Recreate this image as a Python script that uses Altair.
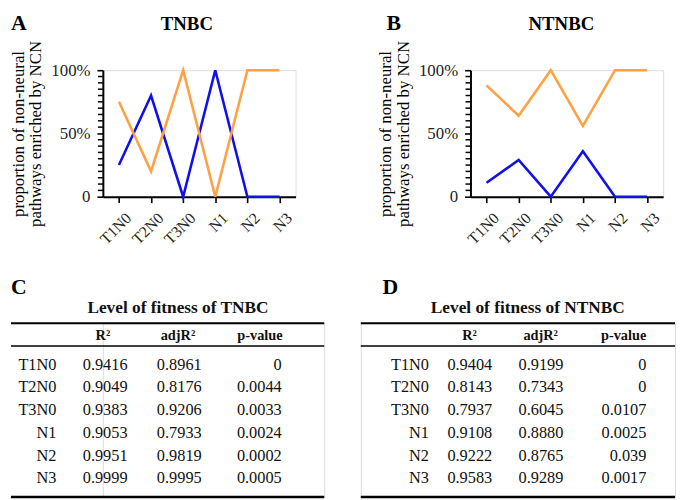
import altair as alt
import pandas as pd

FONT = "Liberation Serif"
BLUE = "#1010ee"
ORANGE = "#ffa143"

stages = ["T1N0", "T2N0", "T3N0", "N1", "N2", "N3"]

tnbc_blue = [25, 80, 0, 100, 0, 0]
tnbc_orange = [75, 20, 100, 0, 100, 100]
ntnbc_blue = [11, 29, 0, 36, 0, 0]
ntnbc_orange = [88, 64, 100, 56, 100, 100]

y_major = [0, 50, 100]
y_minor = [5, 10, 15, 20, 25, 30, 35, 40, 45, 55, 60, 65, 70, 75, 80, 85, 90, 95]
y_title = ["proportion of non-neural", "pathways enriched by NCN"]

table_cols = ["R²", "adjR²", "p-value"]
tnbc_r2 = ["0.9416", "0.9049", "0.9383", "0.9053", "0.9951", "0.9999"]
tnbc_adj = ["0.8961", "0.8176", "0.9206", "0.7933", "0.9819", "0.9995"]
tnbc_p = ["0", "0.0044", "0.0033", "0.0024", "0.0002", "0.0005"]
ntnbc_r2 = ["0.9404", "0.8143", "0.7937", "0.9108", "0.9222", "0.9583"]
ntnbc_adj = ["0.9199", "0.7343", "0.6045", "0.8880", "0.8765", "0.9289"]
ntnbc_p = ["0", "0", "0.0107", "0.0025", "0.039", "0.0017"]

PW, PH = 195, 128
TH = 176
ROW_RANGE = [42, 157]


def one(txt):
    return pd.DataFrame({"t": [txt]})


def line_panel(letter, title, blue, orange, title_x, letter_x):
    df = pd.DataFrame({
        "stage": stages + stages,
        "value": blue + orange,
        "series": ["blue"] * len(stages) + ["orange"] * len(stages),
    })
    x = alt.X("stage:N", sort=stages,
              scale=alt.Scale(type="point", domain=stages, padding=0.5),
              axis=alt.Axis(title=None, labelAngle=-45, labelFont=FONT, labelFontSize=16,
                            labelColor="#222", tickSize=6, tickWidth=1.6, tickColor="black",
                            domainColor="black", domainWidth=2, labelPadding=7, labelOffset=4,
                            grid=False))
    y = alt.Y("value:Q", scale=alt.Scale(domain=[0, 100], nice=False),
              axis=alt.Axis(values=y_major,
                            labelExpr="datum.value == 0 ? '0' : datum.value + '%'",
                            title=y_title, titleFont=FONT, titleFontSize=17,
                            titleFontWeight="normal", titleColor="black", titleLineHeight=18,
                            titlePadding=6, labelFont=FONT, labelFontSize=17, labelColor="#222",
                            tickSize=6, tickWidth=1.6, tickColor="black", domainColor="black",
                            domainWidth=2, labelPadding=7, grid=False))
    lines = alt.Chart(df).mark_line(strokeWidth=2.6).encode(
        x=x, y=y,
        color=alt.Color("series:N", scale=alt.Scale(domain=["blue", "orange"], range=[BLUE, ORANGE]),
                        legend=None))
    minor = alt.Chart(pd.DataFrame({"value": y_minor})).mark_tick(
        color="black", orient="horizontal", size=5, thickness=1.5, opacity=1).encode(
        y=alt.Y("value:Q"), x=alt.value(-2.5))
    ttl = alt.Chart(one(title)).mark_text(font=FONT, fontSize=19, fontWeight="bold", color="black",
                                          align="center", baseline="middle").encode(
        text="t:N", x=alt.value(title_x), y=alt.value(-47))
    let = alt.Chart(one(letter)).mark_text(font=FONT, fontSize=22, fontWeight="bold", color="black",
                                           align="left", baseline="middle").encode(
        text="t:N", x=alt.value(letter_x), y=alt.value(-48))
    return alt.layer(lines, minor, ttl, let).properties(width=PW, height=PH)


def table_panel(letter, title, r2, adj, p, x0, x1, col_pos, head_pos, title_x, letter_x):
    long = pd.DataFrame({
        "stage": stages * 4,
        "ci": [0] * 6 + [1] * 6 + [2] * 6 + [3] * 6,
        "txt": stages + r2 + adj + p,
    })
    heads_df = pd.DataFrame({"hi": [1, 2, 3], "h": table_cols})
    ycell = alt.Y("stage:N", scale=alt.Scale(type="point", domain=stages, range=ROW_RANGE, padding=0),
                  axis=None)
    xcell = alt.X("ci:Q", scale=alt.Scale(domain=[0, 1, 2, 3], range=col_pos), axis=None)
    cells = alt.Chart(long).mark_text(font=FONT, fontSize=16.5, align="right", baseline="middle",
                                      color="#111").encode(x=xcell, y=ycell, text="txt:N")
    heads = alt.Chart(heads_df).mark_text(
        font=FONT, fontSize=14.5, fontWeight="bold", align="center", baseline="middle",
        color="#111").encode(
        x=alt.X("hi:Q", scale=alt.Scale(domain=[1, 2, 3], range=head_pos), axis=None),
        y=alt.value(13), text="h:N")
    r_top = alt.Chart(one("")).mark_rule(color="black", strokeWidth=2).encode(
        x=alt.value(x0), x2=alt.value(x1), y=alt.value(0))
    r_mid = alt.Chart(one("")).mark_rule(color="black", strokeWidth=1.5).encode(
        x=alt.value(x0), x2=alt.value(x1), y=alt.value(23))
    r_bot = alt.Chart(one("")).mark_rule(color="black", strokeWidth=2.5).encode(
        x=alt.value(x0), x2=alt.value(x1), y=alt.value(TH))
    ttl = alt.Chart(one(title)).mark_text(font=FONT, fontSize=17.5, fontWeight="bold", color="#111",
                                          align="center", baseline="alphabetic").encode(
        text="t:N", x=alt.value(title_x), y=alt.value(-10))
    let = alt.Chart(one(letter)).mark_text(font=FONT, fontSize=22, fontWeight="bold", color="black",
                                           align="left", baseline="middle").encode(
        text="t:N", x=alt.value(letter_x), y=alt.value(-37))
    return alt.layer(r_top, r_mid, r_bot, heads, cells, ttl, let).resolve_scale(
        x="independent").properties(width=max(x1, 10), height=TH)


pA = line_panel("A", "TNBC", tnbc_blue, tnbc_orange, 85, -93)
pB = line_panel("B", "NTNBC", ntnbc_blue, ntnbc_orange, 92, -85)
# table C: origin shares panel A's plot-left (page x ~101)
pC = table_panel("C", "Level of fitness of TNBC", tnbc_r2, tnbc_adj, tnbc_p, -93, 224,
                 [-47, 25, 100, 181], [0, 76, 159], 76, -93)
pD = table_panel("D", "Level of fitness of NTNBC", ntnbc_r2, ntnbc_adj, ntnbc_p, 0, 318,
                 [69, 133, 205, 289], [110, 182, 266], 169, 22)

top = alt.hconcat(pA, pB, spacing=80)
bottom = alt.hconcat(pC, pD, spacing=33)
chart = alt.vconcat(top, bottom, spacing=27).properties(padding=0).configure_view(
    stroke="transparent", strokeWidth=0).configure_axis(grid=False).configure(background="white")

chart.save("out.html", embed_options={"renderer": "svg", "actions": False})
